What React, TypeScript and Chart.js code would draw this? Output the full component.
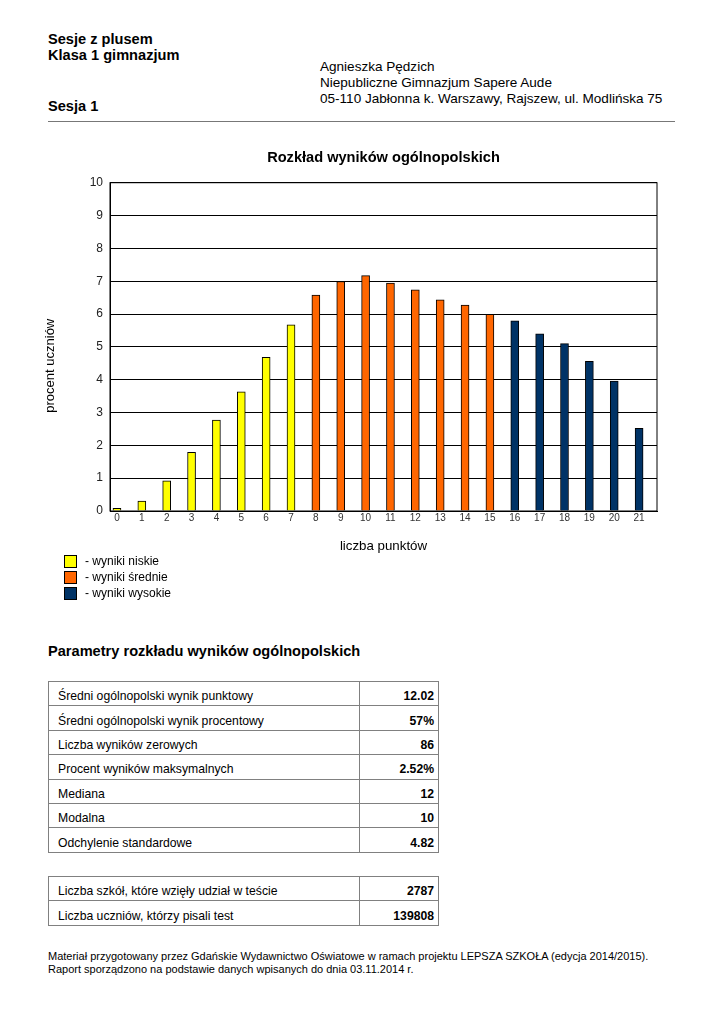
import React, { useEffect, useRef } from "react";
import { Chart, registerables } from "chart.js";

Chart.register(...registerables);

const categories = [0, 1, 2, 3, 4, 5, 6, 7, 8, 9, 10, 11, 12, 13, 14, 15, 16, 17, 18, 19, 20, 21];
const values = [0.08, 0.3, 0.92, 1.79, 2.77, 3.63, 4.68, 5.67, 6.58, 6.99, 7.17, 6.94, 6.74, 6.43, 6.27, 5.99, 5.79, 5.4, 5.1, 4.56, 3.96, 2.52];
const groups = ["low", "low", "low", "low", "low", "low", "low", "low", "mid", "mid", "mid", "mid", "mid", "mid", "mid", "mid", "high", "high", "high", "high", "high", "high"];
const groupColors: Record<string, string> = { low: "#FFFF00", mid: "#FF6600", high: "#003366" };
const legendLabels = ["- wyniki niskie", "- wyniki średnie", "- wyniki wysokie"];
const legendKeys = ["low", "mid", "high"];
const yTicks = [0, 1, 2, 3, 4, 5, 6, 7, 8, 9, 10];

const params1: [string, string][] = [
  ["Średni ogólnopolski wynik punktowy", "12.02"],
  ["Średni ogólnopolski wynik procentowy", "57%"],
  ["Liczba wyników zerowych", "86"],
  ["Procent wyników maksymalnych", "2.52%"],
  ["Mediana", "12"],
  ["Modalna", "10"],
  ["Odchylenie standardowe", "4.82"],
];
const params2: [string, string][] = [
  ["Liczba szkół, które wzięły udział w teście", "2787"],
  ["Liczba uczniów, którzy pisali test", "139808"],
];

const FONT = "'Liberation Sans', Arial, Helvetica, sans-serif";

function ParamTable({ rows, top }: { rows: [string, string][]; top: number }) {
  return (
    <table
      style={{
        position: "absolute",
        left: 48,
        top,
        width: 391,
        borderCollapse: "collapse",
        fontFamily: FONT,
        fontSize: 12.2,
        color: "#000",
      }}
    >
      <tbody>
        {rows.map(([k, v], i) => (
          <tr key={i} style={{ height: 24.4 }}>
            <td style={{ border: "1px solid #808080", padding: "5px 9px 0 9px", width: 292 }}>{k}</td>
            <td style={{ border: "1px solid #808080", padding: "5px 4px 0 4px", textAlign: "right", fontWeight: "bold" }}>{v}</td>
          </tr>
        ))}
      </tbody>
    </table>
  );
}

export default function App() {
  const canvasRef = useRef<HTMLCanvasElement | null>(null);

  useEffect(() => {
    if (!canvasRef.current) return;
    const frame = {
      id: "frame",
      afterDraw(chart: any) {
        const { ctx, chartArea } = chart;
        ctx.save();
        ctx.strokeStyle = "#000";
        ctx.lineWidth = 1;
        ctx.strokeRect(chartArea.left, chartArea.top, chartArea.right - chartArea.left, chartArea.bottom - chartArea.top);
        ctx.translate(chartArea.left - 60, chartArea.top + 183);
        ctx.rotate(-Math.PI / 2);
        ctx.fillStyle = "#000";
        ctx.font = "13px " + FONT;
        ctx.textAlign = "center";
        ctx.textBaseline = "middle";
        ctx.fillText("procent uczniów", 0, 0);
        ctx.restore();
      },
    };
    const chart = new Chart(canvasRef.current, {
      type: "bar",
      data: {
        datasets: [
          {
            data: categories.map((c, i) => ({ x: c, y: values[i] })) as any,
            backgroundColor: groups.map((g) => groupColors[g]),
            borderColor: "#000",
            borderWidth: 1,
            barThickness: 8,
          },
        ],
      },
      options: {
        animation: false,
        responsive: false,
        maintainAspectRatio: false,
        layout: { padding: { left: 0, right: 67, top: 0, bottom: 2 } },
        plugins: {
          legend: { display: false },
          tooltip: { enabled: false },
          title: {
            display: true,
            text: "Rozkład wyników ogólnopolskich",
            fullSize: false,
            color: "#000",
            font: { family: FONT, size: 14.6, weight: "bold" },
            padding: { top: 19.3, bottom: 15.9 },
          },
        },
        scales: {
          x: {
            type: "linear",
            offset: false,
            min: -0.28,
            max: 21.72,
            afterBuildTicks: (scale: any) => {
              scale.ticks = categories.map((c) => ({ value: c }));
            },
            afterFit: (scale: any) => {
              scale.height = 47;
            },
            grid: { display: false, drawTicks: false, offset: false },
            border: { display: true, color: "#000" },
            ticks: {
              autoSkip: false,
              maxRotation: 0,
              padding: 1,
              color: "#333",
              font: { family: FONT, size: 10 },
              callback: (v: any) => String(v),
            },
            title: {
              display: true,
              text: "liczba punktów",
              color: "#000",
              font: { family: FONT, size: 13.3 },
              padding: { top: 4, bottom: 4 },
            },
          },
          y: {
            min: 0,
            max: 10,
            afterBuildTicks: (scale: any) => {
              scale.ticks = yTicks.map((v) => ({ value: v }));
            },
            afterFit: (scale: any) => {
              scale.width = 110;
            },
            grid: { color: "#000", lineWidth: 1, drawTicks: false },
            border: { display: true, color: "#000" },
            ticks: {
              padding: 7,
              color: "#222",
              font: { family: FONT, size: 12 },
            },
          },
        },
      },
      plugins: [frame],
    } as any);
    return () => chart.destroy();
  }, []);

  const txt: React.CSSProperties = { position: "absolute", fontFamily: FONT, color: "#000", whiteSpace: "nowrap", margin: 0 };

  return (
    <div style={{ position: "absolute", left: 0, top: 0, width: 724, height: 1024, background: "#fff", fontFamily: FONT }}>
      <div style={{ ...txt, left: 48, top: 31, fontSize: 14.6, fontWeight: "bold", lineHeight: "16px" }}>Sesje z plusem</div>
      <div style={{ ...txt, left: 48, top: 47, fontSize: 14.6, fontWeight: "bold", lineHeight: "16px" }}>Klasa 1 gimnazjum</div>
      <div style={{ ...txt, left: 48, top: 98, fontSize: 14.6, fontWeight: "bold", lineHeight: "16px" }}>Sesja 1</div>
      <div style={{ ...txt, left: 320, top: 59, fontSize: 13.55, lineHeight: "16px" }}>Agnieszka Pędzich</div>
      <div style={{ ...txt, left: 320, top: 75, fontSize: 13.55, lineHeight: "16px" }}>Niepubliczne Gimnazjum Sapere Aude</div>
      <div style={{ ...txt, left: 320, top: 91, fontSize: 13.55, lineHeight: "16px" }}>05-110 Jabłonna k. Warszawy, Rajszew, ul. Modlińska 75</div>
      <div style={{ position: "absolute", left: 48, top: 121, width: 627, height: 1, background: "#777" }} />

      <canvas ref={canvasRef} width={724} height={430} style={{ position: "absolute", left: 0, top: 130, width: 724, height: 430 }} />

      {legendKeys.map((k, i) => (
        <React.Fragment key={k}>
          <div
            style={{
              position: "absolute",
              left: 64,
              top: 555 + i * 16,
              width: 11,
              height: 11,
              background: groupColors[k],
              border: "1px solid #000",
            }}
          />
          <div style={{ ...txt, left: 85, top: 554 + i * 16, fontSize: 12, lineHeight: "14px" }}>{legendLabels[i]}</div>
        </React.Fragment>
      ))}

      <div style={{ ...txt, left: 48, top: 643, fontSize: 14.6, fontWeight: "bold", lineHeight: "17px" }}>
        Parametry rozkładu wyników ogólnopolskich
      </div>

      <ParamTable rows={params1} top={681} />
      <ParamTable rows={params2} top={876} />

      <div style={{ ...txt, left: 48, top: 950, fontSize: 11, lineHeight: "13px" }}>
        Materiał przygotowany przez Gdańskie Wydawnictwo Oświatowe w ramach projektu LEPSZA SZKOŁA (edycja 2014/2015).
      </div>
      <div style={{ ...txt, left: 48, top: 963, fontSize: 11, lineHeight: "13px" }}>
        Raport sporządzono na podstawie danych wpisanych do dnia 03.11.2014 r.
      </div>
    </div>
  );
}
